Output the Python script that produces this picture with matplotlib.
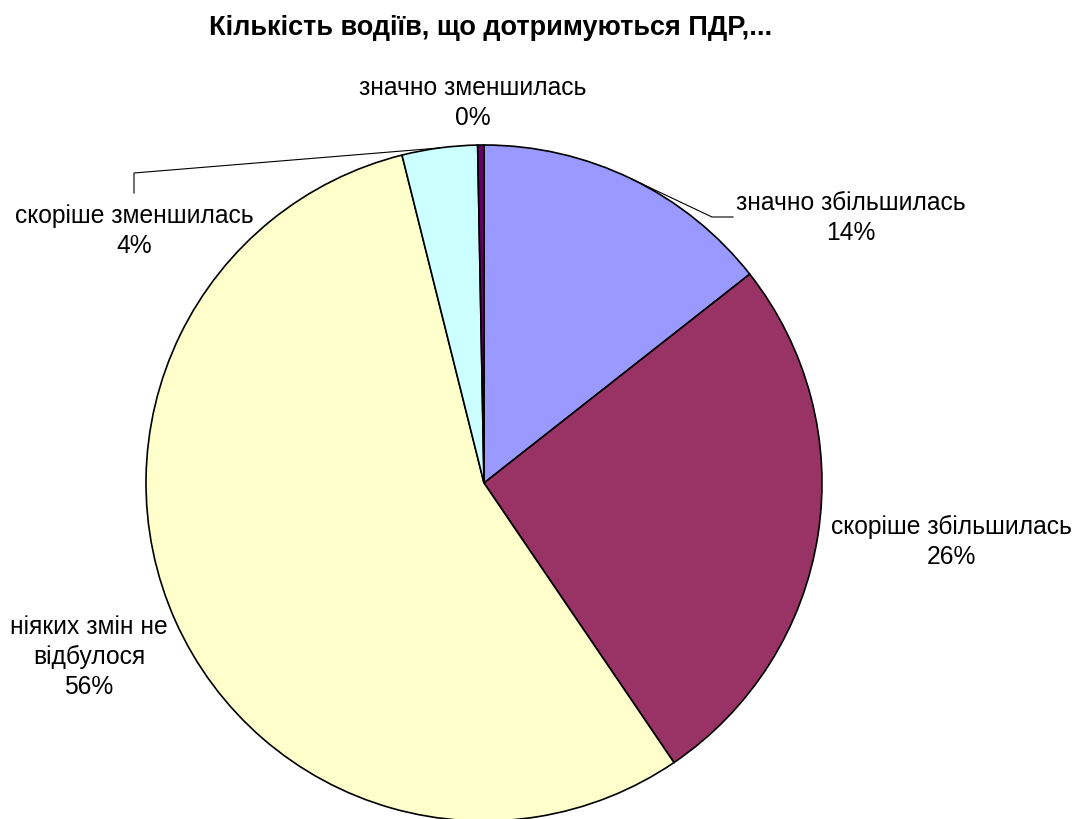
import numpy as np
import matplotlib.pyplot as plt

plt.rcParams['font.family'] = ['Liberation Sans', 'DejaVu Sans']

title = 'Кількість водіїв, що дотримуються ПДР,...'
categories = ['значно збільшилась', 'скоріше збільшилась', 'ніяких змін не\nвідбулося',
              'скоріше зменшилась', 'значно зменшилась']
shares = [14.4, 26.1, 55.6, 3.6, 0.3]
colors = ['#9999FF', '#993366', '#FFFFCC', '#CCFFFF', '#660066']

# label anchors (pixel coords, y down) and where a leader line bends
label_pos = [(851, 218), (951, 542), (89, 657), (134, 231), (473, 103)]
leader_to = [(712, 218), None, None, (134, 174), None]

W, H = 1077, 820
fig = plt.figure(figsize=(W / 100, H / 100), dpi=100)
ax = fig.add_axes([0, 0, 1, 1])

cx, cy, r = 484, 484, 338
# y axis runs downward, so counterclock in data space reads clockwise on screen
wedges, _ = ax.pie(shares, colors=colors, startangle=-90, counterclock=True,
                   center=(cx, cy), radius=r, frame=True,
                   wedgeprops=dict(edgecolor='black', linewidth=1.2))
ax.set_xlim(0, W)
ax.set_ylim(H, 0)
ax.set_aspect('equal')
ax.axis('off')

total = sum(shares)
for i, (cat, val) in enumerate(zip(categories, shares)):
    lx, ly = label_pos[i]
    ax.text(lx, ly, f'{cat}\n{val / total * 100:.0f}%', ha='center', va='center',
            fontsize=17.7, linespacing=1.32)
    if leader_to[i] is not None:
        w = wedges[i]
        mid = np.deg2rad((w.theta1 + w.theta2) / 2)
        ex, ey = cx + r * np.cos(mid), cy + r * np.sin(mid)
        bx, by = leader_to[i]
        if i == 0:
            ax.plot([ex, bx, bx + 21], [ey, by, by], color='black', lw=0.8)
        else:
            ax.plot([ex, bx, bx], [ey, by, by + 20], color='black', lw=0.8)

ax.text(491, 28, title, ha='center', va='center', fontsize=19.5, fontweight='bold')

fig.savefig('out.png', dpi=100)
